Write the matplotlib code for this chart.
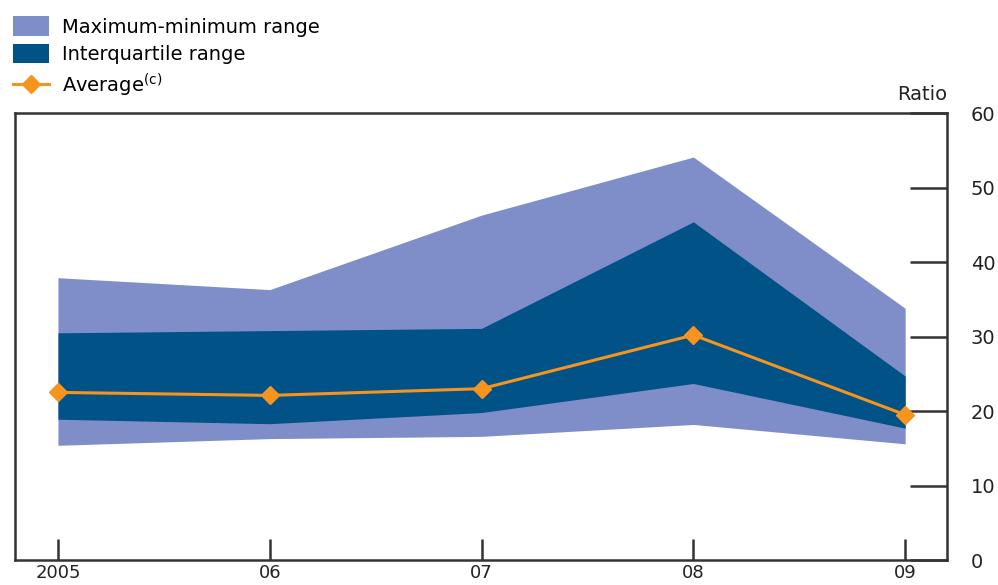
import matplotlib.pyplot as plt

plt.rcParams['font.family'] = ['DejaVu Sans']

years = [2005, 2006, 2007, 2008, 2009]
year_labels = ['2005', '06', '07', '08', '09']
maximum = [37.9, 36.3, 46.3, 54.1, 33.8]
upper_quartile = [30.5, 30.8, 31.1, 45.4, 24.7]
average = [22.5, 22.1, 23.0, 30.2, 19.5]
lower_quartile = [18.9, 18.3, 19.8, 23.7, 17.7]
minimum = [15.4, 16.3, 16.6, 18.2, 15.6]

light = '#7f8ec8'
dark = '#005287'
orange = '#f7941d'
ink = '#333333'
fs = 14

fig = plt.figure(figsize=(9.98, 5.85), dpi=100)
ax = fig.add_axes([0.015, 0.0427, 0.934, 0.764])

h1 = ax.fill_between(years, minimum, maximum, color=light, lw=0,
                     label='Maximum-minimum range')
h2 = ax.fill_between(years, lower_quartile, upper_quartile, color=dark, lw=0,
                     label='Interquartile range')
h3, = ax.plot(years, average, color=orange, lw=2.2, marker='D', ms=9,
              label=r'Average$^{\mathrm{(c)}}$')

ax.set_xlim(2004.797, 2009.198)
ax.set_ylim(0, 60)
ax.set_xticks(years)
ax.set_xticklabels(year_labels)
ax.set_yticks(range(0, 61, 10))

ax.yaxis.tick_right()
ax.tick_params(axis='x', direction='in', length=15, width=1.8, color=ink,
               labelsize=13, labelcolor='#222222', pad=3)
ax.tick_params(axis='y', direction='in', length=27, width=1.8, color=ink,
               labelsize=fs, labelcolor='#222222', pad=17)
for s in ax.spines.values():
    s.set_color(ink)
    s.set_linewidth(1.8)

fig.text(0.949, 0.822, 'Ratio', ha='right', va='bottom', fontsize=fs,
         color='#222222')

fig.legend(handles=[h1, h2, h3], loc='upper left',
           bbox_to_anchor=(0.013, 0.972), frameon=False, fontsize=fs,
           handlelength=1.85, handleheight=1.15, handletextpad=0.65,
           labelspacing=0.38, borderaxespad=0, borderpad=0)

fig.savefig('out.png', dpi=100)
